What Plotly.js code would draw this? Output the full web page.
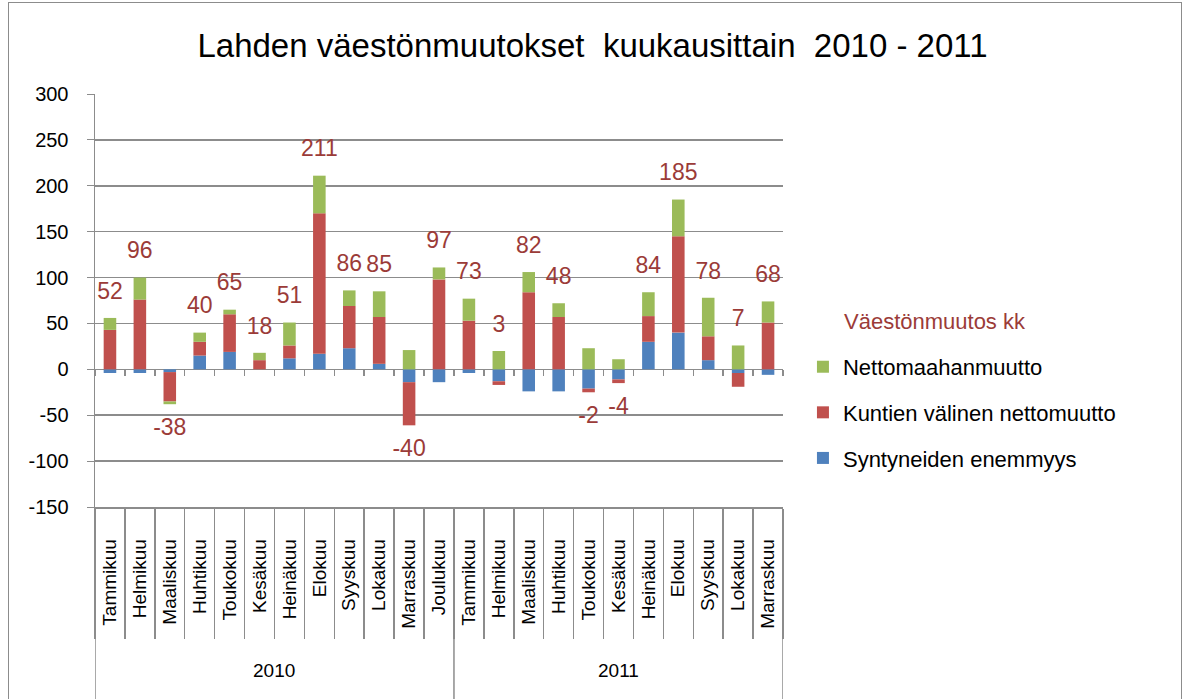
<!DOCTYPE html>
<html>
<head>
<meta charset="utf-8">
<script src="https://cdn.plot.ly/plotly-3.0.1.min.js"></script>
<style>
  html, body { margin: 0; padding: 0; background: #fff; }
  #chart { width: 1185px; height: 699px; position: absolute; left: 0; top: 0; }
  #frame { position: absolute; left: 8px; top: 2px; width: 1172px; height: 720px; border: 1px solid #8c8c8c; pointer-events: none; }
</style>
</head>
<body>
<div id="chart"></div>
<div id="frame"></div>
<script>
const years = ["2010","2010","2010","2010","2010","2010","2010","2010","2010","2010","2010","2010",
               "2011","2011","2011","2011","2011","2011","2011","2011","2011","2011","2011"];
const months = ["Tammikuu","Helmikuu","Maaliskuu","Huhtikuu","Toukokuu","Kesäkuu","Heinäkuu","Elokuu","Syyskuu","Lokakuu","Marraskuu","Joulukuu",
                "Tammikuu","Helmikuu","Maaliskuu","Huhtikuu","Toukokuu","Kesäkuu","Heinäkuu","Elokuu","Syyskuu","Lokakuu","Marraskuu"];
const syntyneet = [-4, -4, -3, 15, 19, 0, 12, 17, 23, 6, -14, -14,  -4, -13, -24, -24, -21, -11, 30, 40, 10, -4, -6];
const kuntien   = [43, 76, -32, 15, 41, 10, 14, 153, 46, 51, -47, 98,  53, -4, 84, 57, -4, -4, 28, 105, 26, -15, 51];
const netto     = [13, 24, -3, 10, 5, 8, 25, 41, 17, 28, 21, 13,  24, 20, 22, 15, 23, 11, 26, 40, 42, 26, 23];
const totals    = [52, 96, -38, 40, 65, 18, 51, 211, 86, 85, -40, 97,  73, 3, 82, 48, -2, -4, 84, 185, 78, 7, 68];
const yTickVals = [-150, -100, -50, 0, 50, 100, 150, 200, 250, 300];
const yTickText = ["-150", "-100", "-50", "0", "50", "100", "150", "200", "250", "300"];
const legendTitle = "Väestönmuutos kk";

const idx = months.map((m, i) => i);
const boundaries = idx.map(i => i - 0.5).concat([idx.length - 0.5]);
const series = [
  {name: "Syntyneiden enemmyys", y: syntyneet, color: "#4F81BD", rank: 3},
  {name: "Kuntien välinen nettomuutto", y: kuntien, color: "#C0504D", rank: 2},
  {name: "Nettomaahanmuutto", y: netto, color: "#9BBB59", rank: 1}
];
const traces = series.map((s, i) => ({
  type: "bar", x: idx, y: s.y, name: s.name, legendgroup: "g" + s.rank, legendrank: s.rank,
  marker: {color: s.color}, hoverinfo: "name+y"
}));

// label anchor: top of positive stack for positive totals, bottom of negative stack otherwise
const anchorY = totals.map((t, i) => {
  const vals = series.map(s => s.y[i]);
  const pos = vals.filter(v => v > 0).reduce((a, b) => a + b, 0);
  const neg = vals.filter(v => v < 0).reduce((a, b) => a + b, 0);
  return t >= 0 ? pos : neg;
});
traces.push({
  type: "scatter", mode: "markers+text", x: idx, y: anchorY,
  text: totals.map(String),
  textposition: totals.map(t => t >= 0 ? "top center" : "bottom center"),
  textfont: {family: "Liberation Sans, Arial, sans-serif", size: 23, color: "#9B3B38"},
  marker: {size: 20, color: "rgba(0,0,0,0)"},
  showlegend: false, hoverinfo: "skip", cliponaxis: false
});

// year groups: boundaries and centres derived from the years array
const yearNames = [...new Set(years)];
const gridC = "#8c8c8c";
const annotations = yearNames.map(yr => {
  const ii = idx.filter(i => years[i] === yr);
  return {
    text: yr, x: (ii[0] + ii[ii.length - 1]) / 2, xref: "x", y: -0.395, yref: "paper",
    xanchor: "center", yanchor: "middle", showarrow: false,
    font: {size: 19, color: "#000"}
  };
});
annotations.push({
  text: legendTitle, x: 1.0858, xref: "paper", xanchor: "left",
  y: 0.448, yref: "paper", yanchor: "middle", showarrow: false,
  font: {size: 22, color: "#9B3B38"}
});
const bounds = [-0.5].concat(yearNames.map(yr => {
  const ii = idx.filter(i => years[i] === yr);
  return ii[ii.length - 1] + 0.5;
}));
const shapes = bounds.map(b => ({
  type: "line", xref: "x", yref: "paper", x0: b, x1: b, y0: 0, y1: -0.47,
  line: {color: gridC, width: 1.5}
}));

const yMin = yTickVals[0], yMax = yTickVals[yTickVals.length - 1];
const layout = {
  width: 1185, height: 699,
  margin: {l: 95, r: 402, t: 94, b: 192},
  paper_bgcolor: "#fff", plot_bgcolor: "#fff",
  font: {family: "Liberation Sans, Arial, sans-serif", color: "#000"},
  title: {
    text: "Lahden väestönmuutokset\u00a0\u00a0kuukausittain\u00a0\u00a02010 - 2011",
    font: {size: 33, color: "#000"}, x: 0.5, xref: "container", xanchor: "center",
    y: 0.935, yref: "container", yanchor: "middle"
  },
  barmode: "relative", bargap: 0.58,
  xaxis: {
    type: "linear", range: [-0.5, months.length - 0.5],
    tickmode: "array", tickvals: idx, ticktext: months, tickangle: -90,
    tickfont: {size: 19, color: "#000"},
    ticks: "", ticklabelstandoff: 23,
    minor: {tickmode: "array", tickvals: boundaries, ticks: "outside", ticklen: 130, tickcolor: gridC, tickwidth: 1.5, showgrid: false},
    showline: true, linecolor: gridC, linewidth: 1.5, showgrid: false, zeroline: false
  },
  xaxis2: {
    overlaying: "x", matches: "x", anchor: "free", side: "bottom",
    position: (0 - yMin) / (yMax - yMin),
    tickmode: "array", tickvals: boundaries, ticktext: boundaries.map(() => ""),
    showticklabels: false, showline: false, showgrid: false, zeroline: false,
    ticks: "outside", ticklen: 6, tickcolor: gridC, tickwidth: 1.5
  },
  yaxis: {
    range: [yMin, yMax], tickmode: "array", tickvals: yTickVals, ticktext: yTickText,
    tickfont: {size: 20, color: "#000"},
    showgrid: true, gridcolor: gridC, gridwidth: 1.5,
    zeroline: true, zerolinecolor: gridC, zerolinewidth: 1.5,
    showline: true, linecolor: gridC, linewidth: 1.5,
    ticks: "outside", ticklen: 7, tickcolor: gridC, ticklabelstandoff: 14
  },
  legend: {
    x: 1.029, xanchor: "left", y: 0.39, yanchor: "top",
    traceorder: "grouped", tracegroupgap: 14,
    font: {size: 22, color: "#000"},
    bgcolor: "rgba(0,0,0,0)"
  },
  annotations: annotations,
  shapes: shapes,
  showlegend: true
};

// invisible helper trace so the zero-line tick axis (xaxis2) is drawn
traces.push({type: "scatter", mode: "none", x: [idx[0]], y: [0], xaxis: "x2", yaxis: "y",
  showlegend: false, hoverinfo: "skip"});

Plotly.newPlot("chart", traces, layout, {displayModeBar: false, staticPlot: true});
</script>
</body>
</html>
